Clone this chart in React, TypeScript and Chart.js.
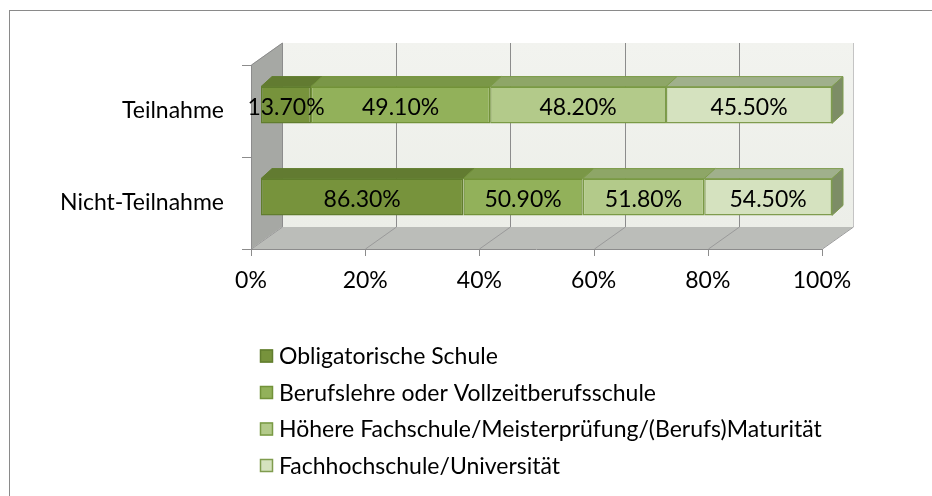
import React, { useEffect, useRef } from "react";
import { Chart, registerables } from "chart.js";

Chart.register(...registerables);

const categories = ["Teilnahme", "Nicht-Teilnahme"];
const seriesNames = [
  "Obligatorische Schule",
  "Berufslehre oder Vollzeitberufsschule",
  "Höhere Fachschule/Meisterprüfung/(Berufs)Maturität",
  "Fachhochschule/Universität",
];
const obligatorischeSchule = [13.7, 86.3];
const berufslehre = [49.1, 50.9];
const hoehereFachschule = [48.2, 51.8];
const fachhochschule = [45.5, 54.5];
const xTickValues = [0, 20, 40, 60, 80, 100];

const seriesValues = [obligatorischeSchule, berufslehre, hoehereFachschule, fachhochschule];
const totals = categories.map((_, j) => seriesValues.reduce((s, arr) => s + arr[j], 0));

const FRONT = ["#77933C", "#92B15A", "#B3CA8A", "#D5E2BF"];
const TOP = ["#627B31", "#7A9747", "#8EA667", "#A0B08C"];
const SIDE = ["#52682A", "#667F3A", "#7A8F5A", "#7D8D66"];
const EDGE = ["#617D2E", "#729239", "#7A9A45", "#7F9C4E"];
const FONT = "Lato, 'DejaVu Sans', sans-serif";
const FONT_SIZE = 23;
const TEXT_COLOR = "#000000";

const WALL_DX = 31;
const WALL_DY = -22;
const BAR_SHIFT_X = 10;
const BAR_SHIFT_Y = -6;
const BAR_DX = 11;
const BAR_DY = -10;

function poly(ctx: CanvasRenderingContext2D, pts: number[][], fill: string | null, stroke: string | null, lw = 1) {
  ctx.beginPath();
  ctx.moveTo(pts[0][0], pts[0][1]);
  for (let i = 1; i < pts.length; i++) ctx.lineTo(pts[i][0], pts[i][1]);
  ctx.closePath();
  if (fill) {
    ctx.fillStyle = fill;
    ctx.fill();
  }
  if (stroke) {
    ctx.strokeStyle = stroke;
    ctx.lineWidth = lw;
    ctx.stroke();
  }
}

function line(ctx: CanvasRenderingContext2D, x1: number, y1: number, x2: number, y2: number, color: string, lw = 1) {
  ctx.beginPath();
  ctx.moveTo(x1, y1);
  ctx.lineTo(x2, y2);
  ctx.strokeStyle = color;
  ctx.lineWidth = lw;
  ctx.stroke();
}

const scene3d = {
  id: "scene3d",
  beforeDraw(chart: any) {
    const ctx = chart.ctx as CanvasRenderingContext2D;
    ctx.save();
    ctx.fillStyle = "#ffffff";
    ctx.fillRect(0, 0, chart.width, chart.height);
    ctx.strokeStyle = "#8a8a8a";
    ctx.lineWidth = 1;
    ctx.strokeRect(9.5, 10.5, chart.width + 40, chart.height + 40);
    ctx.restore();
  },
  beforeDatasetsDraw(chart: any) {
    const ctx = chart.ctx as CanvasRenderingContext2D;
    const { left, right, top, bottom } = chart.chartArea;
    const xs = chart.scales.x;
    ctx.save();
    // back wall
    const bwGrad = ctx.createLinearGradient(0, top + WALL_DY, 0, bottom + WALL_DY);
    bwGrad.addColorStop(0, "#F2F3EF");
    bwGrad.addColorStop(1, "#ECEEE8");
    ctx.fillStyle = bwGrad;
    ctx.fillRect(left + WALL_DX, top + WALL_DY, right - left, bottom - top);
    // left wall
    poly(ctx, [[left, top], [left + WALL_DX, top + WALL_DY], [left + WALL_DX, bottom + WALL_DY], [left, bottom]], "#A6A8A4", null);
    // floor
    poly(ctx, [[left, bottom], [right, bottom], [right + WALL_DX, bottom + WALL_DY], [left + WALL_DX, bottom + WALL_DY]], "#BBBDB9", null);
    // back wall gridlines + floor diagonals
    xTickValues.forEach((v) => {
      const px = Math.round(xs.getPixelForValue(v)) + 0.5;
      line(ctx, px + WALL_DX, top + WALL_DY, px + WALL_DX, bottom + WALL_DY, v === 100 ? "#C4C4C4" : "#8C8C8C");
      line(ctx, px, bottom, px + WALL_DX, bottom + WALL_DY, "#9A9A9A");
      line(ctx, px, bottom, px, bottom + 7, "#8C8C8C");
    });
    // left wall edges
    const lx = Math.round(left) + 0.5;
    line(ctx, lx, top, lx, bottom, "#8C8C8C");
    line(ctx, lx, top, lx + WALL_DX, top + WALL_DY, "#8C8C8C");
    // floor front edge
    const by = Math.round(bottom) + 0.5;
    line(ctx, left, by, right, by, "#8C8C8C");
    // category ticks
    const n = categories.length;
    for (let k = 0; k <= n; k++) {
      const ty = Math.round(top + ((bottom - top) * k) / n) + 0.5;
      line(ctx, left - 9, ty, left, ty, "#8C8C8C");
    }
    ctx.restore();
    ctx.save();
    ctx.translate(BAR_SHIFT_X, BAR_SHIFT_Y);
  },
  afterDatasetsDraw(chart: any) {
    const ctx = chart.ctx as CanvasRenderingContext2D;
    const nDs = chart.data.datasets.length;
    for (let i = 0; i < nDs; i++) {
      const meta = chart.getDatasetMeta(i);
      meta.data.forEach((el: any) => {
        const L = Math.min(el.base, el.x);
        const R = Math.max(el.base, el.x);
        const T = el.y - el.height / 2;
        const B = el.y + el.height / 2;
        poly(ctx, [[L, T], [R, T], [R + BAR_DX, T + BAR_DY], [L + BAR_DX, T + BAR_DY]], TOP[i], EDGE[i], 1);
        if (i === nDs - 1) {
          poly(ctx, [[R, T], [R + BAR_DX, T + BAR_DY], [R + BAR_DX, B + BAR_DY], [R, B]], SIDE[i], EDGE[i], 1);
        }
      });
    }
    ctx.font = `${FONT_SIZE}px ${FONT}`;
    ctx.fillStyle = TEXT_COLOR;
    ctx.textAlign = "center";
    ctx.textBaseline = "middle";
    for (let i = 0; i < nDs; i++) {
      const meta = chart.getDatasetMeta(i);
      const raw = chart.data.datasets[i].rawValues as number[];
      meta.data.forEach((el: any, j: number) => {
        const cx = (el.base + el.x) / 2;
        ctx.fillText(raw[j].toFixed(2) + "%", cx, el.y + 3);
      });
    }
    ctx.restore();
  },
  afterDraw(chart: any) {
    const ctx = chart.ctx as CanvasRenderingContext2D;
    const ca = chart.chartArea;
    const x0 = ca.left + 9;
    let y = ca.bottom + 107;
    ctx.save();
    ctx.font = `${FONT_SIZE}px ${FONT}`;
    ctx.textAlign = "left";
    ctx.textBaseline = "middle";
    chart.data.datasets.forEach((ds: any, i: number) => {
      ctx.fillStyle = FRONT[i];
      ctx.fillRect(x0, y - 6.5, 13, 13);
      ctx.strokeStyle = EDGE[i];
      ctx.lineWidth = 1.5;
      ctx.strokeRect(x0 + 0.5, y - 6, 12, 12);
      ctx.fillStyle = TEXT_COLOR;
      ctx.fillText(ds.label, x0 + 19, y + 1);
      y += 36.5;
    });
    ctx.restore();
  },
};

export default function App() {
  const canvasRef = useRef<HTMLCanvasElement | null>(null);

  useEffect(() => {
    if (!canvasRef.current) return;
    const chart = new Chart(canvasRef.current, {
      type: "bar",
      data: {
        labels: categories,
        datasets: seriesValues.map((vals, i) => ({
          label: seriesNames[i],
          data: vals.map((v, j) => (v / totals[j]) * 100),
          rawValues: vals,
          backgroundColor: FRONT[i],
          borderColor: EDGE[i],
          borderWidth: 1.5,
          borderSkipped: false,
          categoryPercentage: 1,
          barPercentage: 0.4,
          clip: 30,
        })) as any,
      },
      options: {
        indexAxis: "y",
        animation: false,
        responsive: false,
        events: [],
        layout: { padding: { left: 0, top: 65, right: 110, bottom: 187 } },
        plugins: {
          legend: { display: false },
          tooltip: { enabled: false },
        },
        scales: {
          x: {
            stacked: true,
            min: 0,
            max: 100,
            afterBuildTicks: (scale: any) => {
              scale.ticks = xTickValues.map((v) => ({ value: v }));
            },
            afterFit: (scale: any) => {
              scale.height = 60;
            },
            ticks: {
              callback: (v: any) => v + "%",
              font: { family: FONT, size: FONT_SIZE },
              color: TEXT_COLOR,
              padding: 18,
              maxRotation: 0,
            },
            grid: { display: false, drawTicks: false },
            border: { display: false },
          },
          y: {
            stacked: true,
            afterFit: (scale: any) => {
              scale.width = 251;
            },
            ticks: {
              font: { family: FONT, size: FONT_SIZE },
              color: TEXT_COLOR,
              padding: 27,
            },
            grid: { display: false, drawTicks: false },
            border: { display: false },
          },
        },
      },
      plugins: [scene3d],
    });
    return () => chart.destroy();
  }, []);

  return (
    <div style={{ position: "fixed", left: 0, top: 0, width: 932, height: 496, background: "#fff" }}>
      <canvas ref={canvasRef} width={932} height={496} style={{ display: "block", width: 932, height: 496 }} />
    </div>
  );
}
